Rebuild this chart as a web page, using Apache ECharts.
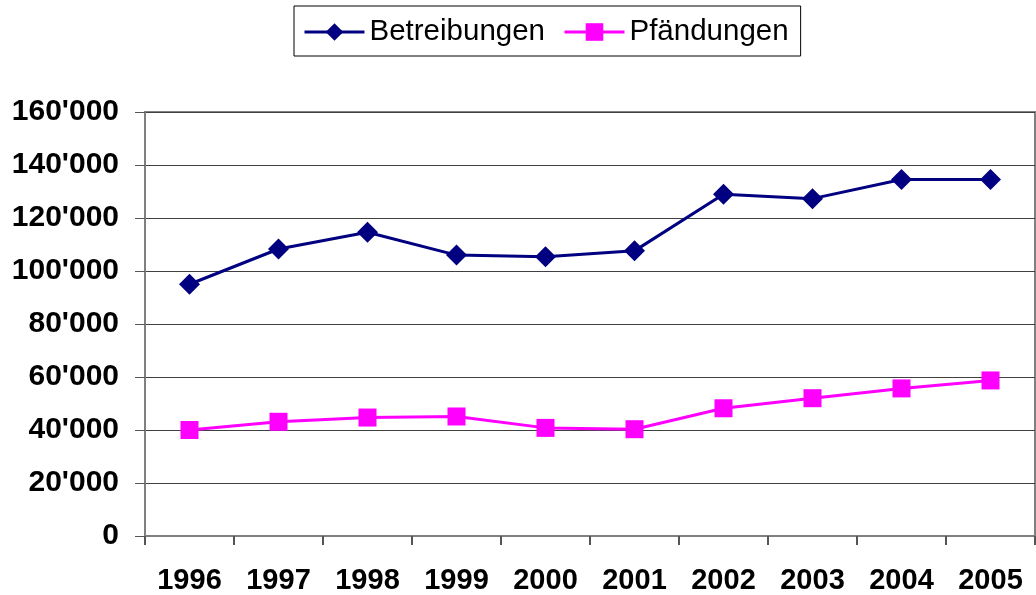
<!DOCTYPE html>
<html>
<head>
<meta charset="utf-8">
<script src="https://cdn.jsdelivr.net/npm/echarts@6/dist/echarts.min.js"></script>
<style>
  html, body { margin: 0; padding: 0; background: #fff; }
  #chart { width: 1036px; height: 595px; }
</style>
</head>
<body>
<div id="chart"></div>
<script>
var years = ['1996','1997','1998','1999','2000','2001','2002','2003','2004','2005'];
var betreibungen = [95000, 108300, 114600, 106000, 105400, 107600, 129000, 127300, 134500, 134500];
var pfaendungen = [40000, 43100, 44700, 45100, 40800, 40300, 48200, 52000, 55700, 58700];
var seriesNames = ['Betreibungen', 'Pfändungen'];

var font = "'Liberation Sans', Arial, sans-serif";

function fmtThousands(v){
  // 160000 -> 160'000
  return String(v).replace(/\B(?=(\d{3})+(?!\d))/g, "'");
}

var myChart = echarts.init(document.getElementById('chart'));
var option = {
  animation: false,
  legend: {
    left: 294,
    top: 6,
    padding: [11, 12, 9, 9],
    itemGap: 18,
    itemWidth: 60,
    itemHeight: 22,
    borderColor: '#000',
    borderWidth: 1,
    lineStyle: { width: 3 },
    textStyle: { fontFamily: font, fontSize: 29.5, color: '#000' },
    data: seriesNames
  },
  grid: {
    left: 145,
    right: 1,
    top: 112,
    bottom: 59,
    show: true,
    borderColor: '#808080',
    borderWidth: 2
  },
  xAxis: {
    type: 'category',
    data: years,
    boundaryGap: true,
    axisLine: { lineStyle: { color: '#808080', width: 2 } },
    axisTick: { show: true, length: 9, lineStyle: { color: '#555', width: 2 } },
    axisLabel: { margin: 30, fontFamily: font, fontSize: 29, fontWeight: 'bold', color: '#000' },
    splitLine: { show: false }
  },
  yAxis: {
    type: 'value',
    min: 0,
    max: 160000,
    interval: 20000,
    axisLine: { show: true, lineStyle: { color: '#808080', width: 2 } },
    axisTick: { show: true, length: 10, lineStyle: { color: '#555', width: 1 } },
    axisLabel: {
      margin: 26,
      fontFamily: font, fontSize: 30, fontWeight: 'bold', color: '#000',
      formatter: fmtThousands
    },
    splitLine: { lineStyle: { color: '#404040', width: 1 } }
  },
  series: [
    {
      name: seriesNames[0],
      type: 'line',
      data: betreibungen,
      symbol: 'diamond',
      symbolSize: 21,
      lineStyle: { color: '#000080', width: 3 },
      itemStyle: { color: '#000080' }
    },
    {
      name: seriesNames[1],
      type: 'line',
      data: pfaendungen,
      symbol: 'rect',
      symbolSize: 18,
      lineStyle: { color: '#ff00ff', width: 3 },
      itemStyle: { color: '#ff00ff' }
    }
  ]
};
myChart.setOption(option);
</script>
</body>
</html>
